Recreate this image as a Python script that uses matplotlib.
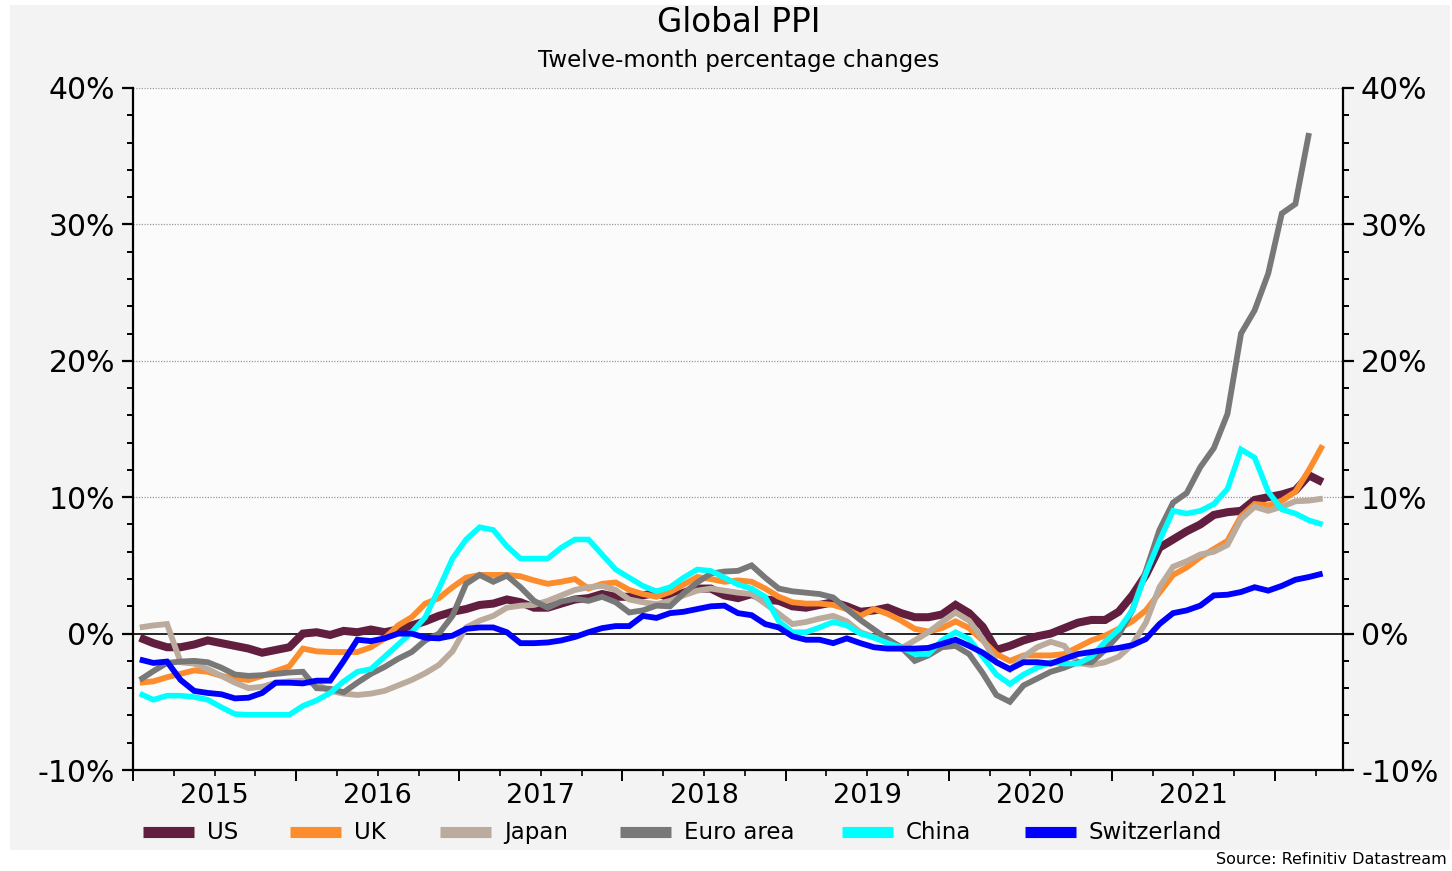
import matplotlib
matplotlib.use('Agg')
import matplotlib.pyplot as plt
from matplotlib.patches import Rectangle
from matplotlib.lines import Line2D
from matplotlib.ticker import FuncFormatter
import numpy as np

plt.rcParams['font.family'] = ['DejaVu Sans']
plt.rcParams['axes.unicode_minus'] = False

# ---- data (12-month % change, monthly from Jan 2015) ----
years = [2015, 2016, 2017, 2018, 2019, 2020, 2021]
start_year = 2015

us = [-0.3, -0.7, -1.0, -1.0, -0.8, -0.5, -0.7, -0.9, -1.1, -1.4, -1.2, -1.0,
      0.0, 0.1, -0.1, 0.2, 0.1, 0.3, 0.1, 0.3, 0.6, 0.9, 1.3, 1.6,
      1.8, 2.1, 2.2, 2.5, 2.3, 1.9, 1.9, 2.2, 2.5, 2.6, 2.9, 2.7,
      2.7, 2.8, 3.0, 2.6, 3.0, 3.3, 3.3, 2.8, 2.6, 2.9, 2.5, 2.4,
      2.0, 1.9, 2.1, 2.3, 2.0, 1.6, 1.7, 1.9, 1.5, 1.2, 1.2, 1.4,
      2.1, 1.5, 0.5, -1.2, -0.9, -0.5, -0.2, 0.0, 0.4, 0.8, 1.0, 1.0,
      1.6, 2.8, 4.3, 6.3, 6.9, 7.5, 8.0, 8.7, 8.9, 9.0, 9.8, 10.0,
      10.2, 10.5, 11.6, 11.1]

uk = [-3.6, -3.5, -3.2, -2.95, -2.7, -2.8, -3.1, -3.3, -3.4, -3.1, -2.75, -2.4,
      -1.1, -1.3, -1.35, -1.35, -1.35, -1.0, -0.35, 0.6, 1.2, 2.2, 2.6, 3.4,
      4.1, 4.3, 4.3, 4.3, 4.2, 3.9, 3.65, 3.8, 4.0, 3.3, 3.65, 3.75,
      3.2, 2.9, 2.7, 3.05, 3.6, 4.15, 4.0, 3.8, 3.9, 3.8, 3.3, 2.7,
      2.3, 2.2, 2.2, 2.1, 1.8, 1.3, 1.8, 1.45, 0.95, 0.35, 0.15, 0.4,
      0.9, 0.4, -0.5, -1.5, -2.0, -1.6, -1.6, -1.6, -1.5, -1.0, -0.5, -0.15,
      0.35, 0.9, 1.7, 3.0, 4.3, 4.85, 5.6, 6.2, 6.8, 8.6, 9.5, 9.4,
      9.75, 10.4, 12.0, 13.8]

japan = [0.45, 0.6, 0.7, -2.1, -2.2, -2.6, -3.1, -3.6, -4.0, -3.9, -3.6, -3.5,
         -3.45, -3.7, -4.2, -4.4, -4.5, -4.4, -4.2, -3.8, -3.4, -2.9, -2.3, -1.3,
         0.45, 0.95, 1.3, 1.9, 2.05, 2.1, 2.4, 2.8, 3.2, 3.4, 3.5, 3.2,
         2.5, 2.3, 2.15, 2.4, 2.8, 3.15, 3.3, 3.15, 3.0, 2.9, 2.2, 1.45,
         0.7, 0.85, 1.1, 1.3, 0.9, 0.1, -0.25, -0.65, -1.1, -0.5, 0.1, 0.85,
         1.55, 0.95, -0.4, -2.1, -2.65, -1.7, -1.0, -0.6, -0.9, -2.15, -2.3, -2.1,
         -1.7, -0.8, 0.8, 3.4, 4.9, 5.3, 5.8, 6.0, 6.5, 8.4, 9.3, 9.0,
         9.3, 9.7, 9.75, 9.9]

euro = [-3.4, -2.75, -2.15, -2.05, -2.0, -2.1, -2.5, -3.0, -3.1, -3.05, -2.95, -2.85,
        -2.8, -4.0, -4.05, -4.3, -3.6, -2.95, -2.45, -1.85, -1.35, -0.5, 0.0, 1.3,
        3.65, 4.3, 3.8, 4.25, 3.4, 2.4, 1.9, 2.35, 2.55, 2.4, 2.7, 2.3,
        1.55, 1.7, 2.05, 2.0, 2.95, 3.75, 4.4, 4.55, 4.6, 5.0, 4.1, 3.3,
        3.1, 3.0, 2.9, 2.65, 1.8, 1.0, 0.3, -0.4, -1.0, -2.0, -1.6, -1.0,
        -0.9, -1.5, -2.9, -4.5, -5.0, -3.8, -3.3, -2.8, -2.5, -2.1, -2.1, -1.2,
        -0.1, 1.7, 4.6, 7.6, 9.6, 10.3, 12.2, 13.6, 16.1, 22.0, 23.7, 26.4,
        30.8, 31.5, 36.7]

china = [-4.4, -4.85, -4.55, -4.55, -4.65, -4.85, -5.4, -5.9, -5.95, -5.95, -5.95, -5.95,
         -5.3, -4.9, -4.35, -3.5, -2.8, -2.6, -1.7, -0.8, 0.1, 1.2, 3.3, 5.5,
         6.9, 7.8, 7.6, 6.4, 5.5, 5.5, 5.5, 6.3, 6.9, 6.9, 5.8, 4.7,
         4.1, 3.5, 3.1, 3.4, 4.1, 4.7, 4.6, 4.1, 3.6, 3.3, 2.7, 0.9,
         0.1, 0.1, 0.45, 0.85, 0.6, 0.0, -0.3, -0.7, -1.0, -1.5, -1.5, -0.5,
         0.1, -0.4, -1.7, -3.0, -3.7, -3.0, -2.5, -2.1, -2.2, -2.2, -1.7, -0.6,
         0.3, 1.7, 4.4, 6.8, 9.0, 8.8, 9.0, 9.5, 10.6, 13.5, 12.9, 10.4,
         9.1, 8.8, 8.3, 8.0]

swiss = [-1.9, -2.15, -2.05, -3.4, -4.2, -4.35, -4.45, -4.75, -4.7, -4.35, -3.6, -3.6,
         -3.65, -3.45, -3.45, -2.0, -0.45, -0.55, -0.35, 0.0, 0.0, -0.3, -0.35, -0.15,
         0.35, 0.45, 0.45, 0.1, -0.7, -0.7, -0.65, -0.5, -0.25, 0.1, 0.4, 0.55,
         0.55, 1.3, 1.15, 1.5, 1.6, 1.8, 2.0, 2.05, 1.5, 1.35, 0.7, 0.45,
         -0.2, -0.45, -0.45, -0.7, -0.35, -0.7, -1.0, -1.1, -1.1, -1.1, -1.05, -0.75,
         -0.45, -0.9, -1.4, -2.1, -2.6, -2.1, -2.1, -2.2, -1.85, -1.5, -1.35, -1.2,
         -1.05, -0.85, -0.4, 0.7, 1.5, 1.7, 2.05, 2.8, 2.85, 3.05, 3.4, 3.15,
         3.5, 3.95, 4.15, 4.4]

series_names = ['US', 'UK', 'Japan', 'Euro area', 'China', 'Switzerland']
series_data = [us, uk, japan, euro, china, swiss]
colors = ['#611e3f', '#fd8c2c', '#baab9c', '#787878', '#00ffff', '#0000ff']
widths = [5.8, 4.2, 4.2, 4.2, 4.0, 4.2]
draw_order = [0, 1, 2, 3, 5, 4]

W, H = 1452, 871
fig = plt.figure(figsize=(W / 100, H / 100), dpi=100)
fig.patch.set_facecolor('white')
fig.patches.append(Rectangle((10 / W, 1 - 850 / H), 1440 / W, 845 / H,
                             transform=fig.transFigure, facecolor='#f3f3f3',
                             edgecolor='none', zorder=-10))

L, R, T, B = 133, 1343, 88, 770
ax = fig.add_axes([L / W, 1 - B / H, (R - L) / W, (B - T) / H])
ax.set_facecolor('#fbfbfb')

for k in draw_order:
    vals = series_data[k]
    xs = np.arange(len(vals)) + 0.5
    ax.plot(xs, vals, color=colors[k], lw=widths[k], solid_joinstyle='miter',
            solid_capstyle='butt', zorder=3 + k * 0.1)

n_months = 89
ax.set_xlim(0, n_months)
ax.set_ylim(-10, 40)

# grid & zero line
for v in [10, 20, 30, 40]:
    ax.axhline(v, color='#9a9a9a', lw=0.9, ls=(0, (1, 1.2)), zorder=1)
ax.axhline(0, color='black', lw=1.2, zorder=2)

# spines
for s in ['left', 'right', 'bottom']:
    ax.spines[s].set_linewidth(1.6)
    ax.spines[s].set_color('black')
ax.spines['top'].set_visible(False)

# y ticks
ax.set_yticks([-10, 0, 10, 20, 30, 40])
ax.set_yticks(np.arange(-10, 41, 2), minor=True)
ax.yaxis.set_major_formatter(FuncFormatter(lambda v, p: f'{v:.0f}%'))
ax.tick_params(axis='y', which='major', direction='out', length=8, width=1.6,
               labelsize=21.5, left=True, right=True, labelleft=True, labelright=True,
               pad=5)
ax.tick_params(axis='y', which='minor', direction='out', length=4.5, width=1.4,
               left=True, right=True)

# x ticks: year boundaries (major) and quarters (minor)
year_bounds = [12 * (y - start_year) for y in years] + [12 * (years[-1] + 1 - start_year)]
ax.set_xticks(year_bounds)
ax.set_xticks(np.arange(0, n_months + 1, 3), minor=True)
ax.tick_params(axis='x', which='major', direction='out', length=8, width=1.4,
               labelbottom=False)
ax.tick_params(axis='x', which='minor', direction='out', length=4.5, width=1.2)

sec = ax.secondary_xaxis('bottom')
sec.set_xticks([12 * (y - start_year) + 6 for y in years], labels=[str(y) for y in years])
sec.tick_params(length=0, labelsize=19.5, pad=9)
sec.spines['bottom'].set_visible(False)

# titles
fig.text(739 / W, 1 - 23 / H, 'Global PPI', ha='center', va='center', fontsize=23.5)
fig.text(739 / W, 1 - 61 / H, 'Twelve-month percentage changes', ha='center',
         va='center', fontsize=16.5)
fig.text(1447 / W, 1 - 859 / H, 'Source: Refinitiv Datastream', ha='right',
         va='center', fontsize=11.5)

# legend (manual placement to match reference spacing)
leg_x = [143, 290, 440, 620, 842, 1025]
leg_y = 1 - 832 / H
for k, name in enumerate(series_names):
    x0 = leg_x[k]
    fig.add_artist(Line2D([x0 / W, (x0 + 51) / W], [leg_y, leg_y],
                          transform=fig.transFigure, color=colors[k], lw=8,
                          solid_capstyle='butt'))
    fig.text((x0 + 64) / W, leg_y, name, ha='left', va='center', fontsize=16.5)

fig.savefig('out.png', dpi=100, facecolor=fig.get_facecolor())
